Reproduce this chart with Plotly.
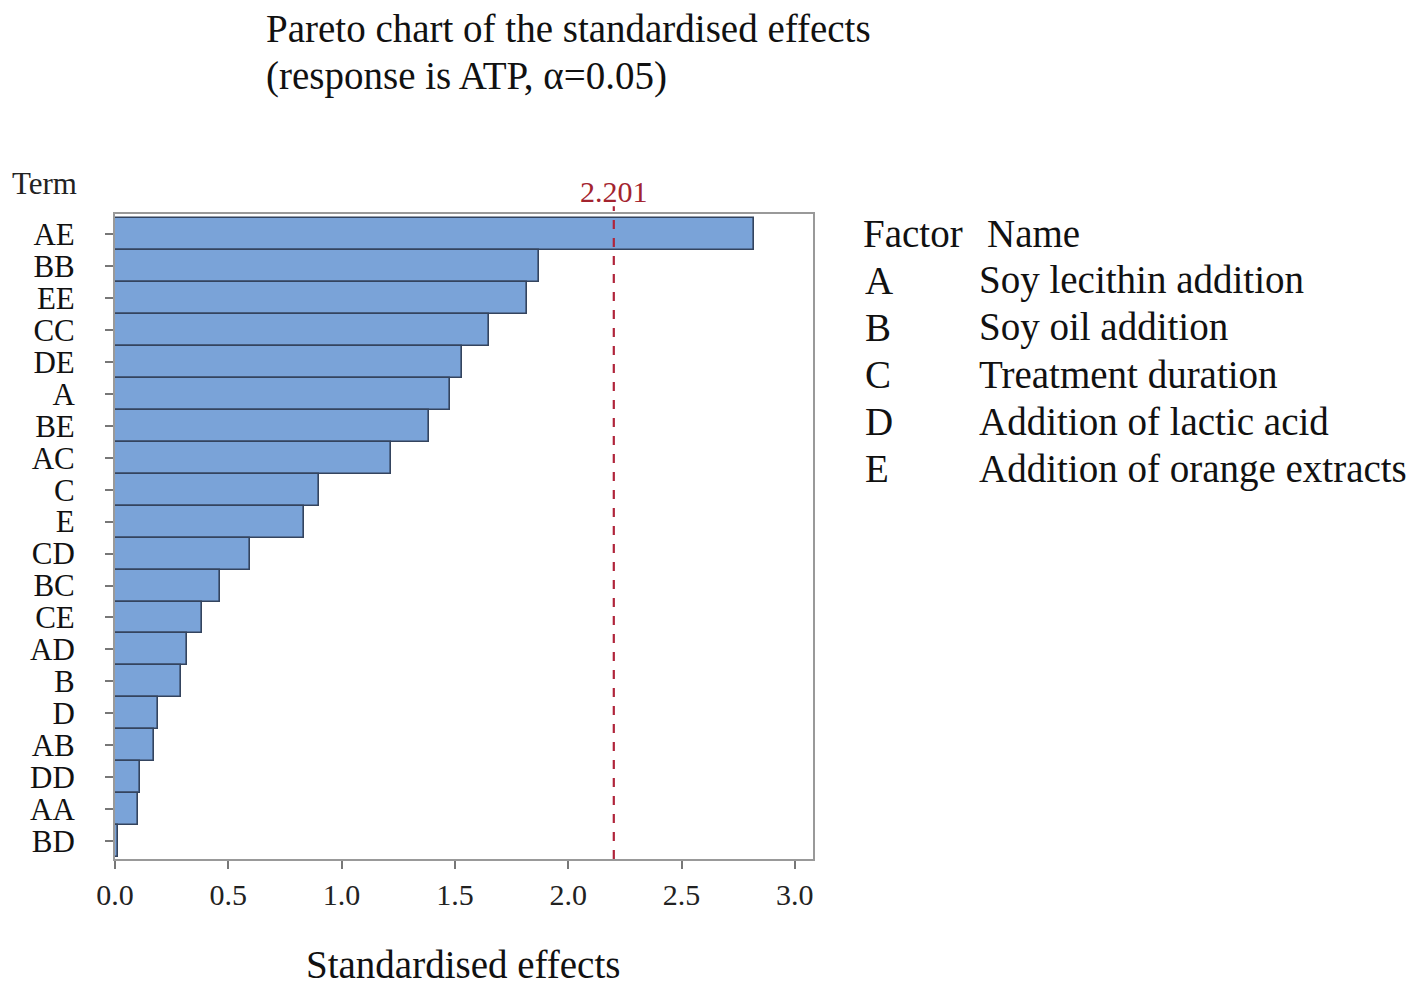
import plotly.graph_objects as go

# Pareto chart data (terms ordered from largest to smallest effect)
terms = ["AE", "BB", "EE", "CC", "DE", "A", "BE", "AC", "C", "E",
         "CD", "BC", "CE", "AD", "B", "D", "AB", "DD", "AA", "BD"]
effects = [2.82, 1.87, 1.82, 1.65, 1.53, 1.48, 1.385, 1.22, 0.90, 0.834,
           0.595, 0.463, 0.383, 0.317, 0.290, 0.189, 0.171, 0.109, 0.100, 0.012]
critical_value = 2.201

x_ticks = [0.0, 0.5, 1.0, 1.5, 2.0, 2.5, 3.0]

factor_letters = ["A", "B", "C", "D", "E"]
factor_names = ["Soy lecithin addition", "Soy oil addition", "Treatment duration",
                "Addition of lactic acid", "Addition of orange extracts"]

FONT = "Liberation Serif, Times New Roman, serif"

# the page adds a small offset, so the margins are shifted a bit
OFF = 7
# plot area in reference pixels
L, R, T, B = 114, 812, 213, 858
W, H = R - L, B - T


def px_x(px):
    return (px - L) / W


def px_y(py):
    return (B - py) / H


fig = go.Figure()

fig.add_trace(go.Bar(
    x=effects,
    y=terms,
    orientation='h',
    marker=dict(color='#7aa3d8', line=dict(color='#34445e', width=1.6)),
    showlegend=False
))

# critical value line
fig.add_shape(
    type='line',
    x0=critical_value, x1=critical_value,
    y0=0, y1=1.012,
    xref='x', yref='paper',
    line=dict(color='#b0243a', width=2.2, dash='dash')
)


def text_note(px, py, text, size=39, color='#111', anchor='left'):
    return dict(x=px_x(px), y=px_y(py), xref='paper', yref='paper',
                text=text, showarrow=False,
                font=dict(family=FONT, size=size, color=color),
                xanchor=anchor, yanchor='middle')


annotations = [
    text_note(263, 28, "Pareto chart of the standardised effects"),
    text_note(263, 75, "(response is ATP, \u03b1=0.05)"),
    dict(x=critical_value, y=px_y(190), xref='x', yref='paper',
         text=f"{critical_value:.3f}", showarrow=False,
         font=dict(family=FONT, size=30, color='#a3242f'),
         xanchor='center', yanchor='middle'),
    text_note(9, 183, "Term", size=31, color='#222'),
    text_note(860, 232, "Factor"),
    text_note(984, 232, "Name"),
    text_note(462, 963, "Standardised effects", anchor='center'),
]

for i, (letter, name) in enumerate(zip(factor_letters, factor_names)):
    row_y = 279 + i * 47.2
    annotations.append(text_note(862, row_y, letter))
    annotations.append(text_note(976, row_y, name))

fig.update_layout(
    width=1418,
    height=989,
    margin=dict(l=L - OFF, r=1418 - R + OFF, t=T - OFF, b=989 - B + OFF, autoexpand=False),
    paper_bgcolor='white',
    plot_bgcolor='white',
    bargap=0,
    xaxis=dict(
        range=[0, 3.08],
        tickvals=x_ticks,
        ticktext=[f"{v:.1f}" for v in x_ticks],
        ticks='outside', ticklen=8, tickcolor='#777', tickwidth=1.5,
        showline=True, linecolor='#999', linewidth=2, mirror=True,
        showgrid=False, zeroline=False,
        tickfont=dict(family=FONT, size=30, color='#222')
    ),
    yaxis=dict(
        tickmode='array', tickvals=terms, ticktext=terms,
        categoryorder='array', categoryarray=terms,
        range=[19.56, -0.63], autorange=False,
        ticks='outside', ticklen=8, tickcolor='#777', tickwidth=1.5,
        ticklabelstandoff=24,
        showline=True, linecolor='#999', linewidth=2, mirror=True,
        showgrid=False, zeroline=False,
        tickfont=dict(family=FONT, size=31, color='#111')
    ),
    annotations=annotations
)

fig.write_html("out.html")
